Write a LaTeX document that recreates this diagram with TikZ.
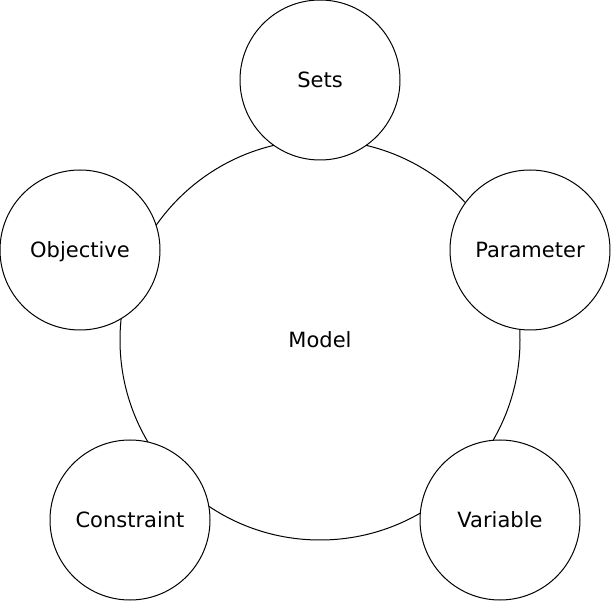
\documentclass[tikz,border=0pt]{standalone}
\usepackage{fontspec}
\setmainfont{DejaVu Sans}
\begin{document}
\begin{tikzpicture}[x=1pt,y=-1pt,line width=1pt,
  lbl/.style={font=\fontsize{21}{25}\selectfont,text height=17pt,text depth=2pt},
  small/.style={circle,draw=black,fill=white,minimum size=160pt,inner sep=0pt,lbl},
  big/.style={circle,draw=black,minimum size=400pt,inner sep=0pt,lbl}]
\useasboundingbox (0,0) rectangle (611,601);
\node[big] (model) at (320,340) {Model};
\node[small] (sets) at (320,80) {Sets};
\node[small] (objective) at (80,250) {Objective};
\node[small] (parameter) at (530,250) {Parameter};
\node[small] (constraint) at (130,520) {Constraint};
\node[small] (variable) at (500,520) {Variable};
\end{tikzpicture}
\end{document}
